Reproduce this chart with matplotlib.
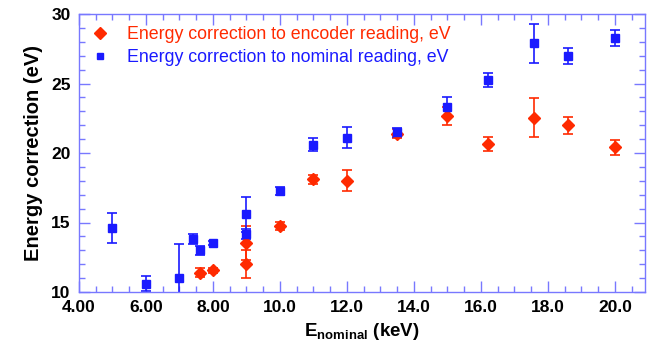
import matplotlib.pyplot as plt
from matplotlib.ticker import MultipleLocator, FixedFormatter, FixedLocator

plt.rcParams['font.family'] = ['Liberation Sans', 'DejaVu Sans']

# Energy correction to encoder reading (red diamonds)
enc_x = [7.6, 8.0, 9.0, 9.0, 10.0, 11.0, 12.0, 13.5, 15.0, 16.2, 17.6, 18.6, 20.0]
enc_y = [11.4, 11.56, 13.53, 12.0, 14.73, 18.1, 18.0, 21.4, 22.65, 20.65, 22.53, 22.0, 20.4]
enc_err = [0.3, 0.2, 1.25, 1.0, 0.3, 0.3, 0.75, 0.3, 0.65, 0.5, 1.4, 0.6, 0.55]

# Energy correction to nominal reading (blue squares)
nom_x = [5.0, 6.0, 7.0, 7.4, 7.6, 8.0, 9.0, 9.0, 10.0, 11.0, 12.0, 13.5, 15.0, 16.2, 17.6, 18.6, 20.0]
nom_y = [14.6, 10.6, 11.03, 13.79, 13.0, 13.52, 15.6, 14.15, 17.25, 20.61, 21.09, 21.48, 23.32, 25.25, 27.89, 27.0, 28.29]
nom_err = [1.1, 0.55, 2.4, 0.36, 0.33, 0.15, 1.25, 0.35, 0.3, 0.47, 0.75, 0.3, 0.7, 0.48, 1.42, 0.58, 0.56]

xticks = [4, 6, 8, 10, 12, 14, 16, 18, 20]
xticklabels = ['4.00', '6.00', '8.00', '10.0', '12.0', '14.0', '16.0', '18.0', '20.0']

fig = plt.figure(figsize=(6.47, 3.47), dpi=100)
ax = fig.add_axes([79 / 647, 1 - 292 / 347, (645 - 79) / 647, (292 - 14) / 347])

red = '#ff2a00'
blue = '#1a1aff'
eb1 = ax.errorbar(enc_x, enc_y, yerr=enc_err, fmt='D', color=red, ms=6.5, capsize=3.5,
                  elinewidth=1.2, capthick=1.2)
eb2 = ax.errorbar(nom_x, nom_y, yerr=nom_err, fmt='s', color=blue, ms=5.5, capsize=3.5,
                  elinewidth=1.2, capthick=1.2)

ax.set_xlim(4, 20.9)
ax.set_ylim(10, 30)

ax.xaxis.set_major_locator(FixedLocator(xticks))
ax.xaxis.set_major_formatter(FixedFormatter(xticklabels))
ax.xaxis.set_minor_locator(MultipleLocator(0.5))
ax.yaxis.set_major_locator(MultipleLocator(5))
ax.yaxis.set_minor_locator(MultipleLocator(1))

axis_col = '#7878ff'
for s in ax.spines.values():
    s.set_color(axis_col)
    s.set_linewidth(1.0)
ax.tick_params(which='both', direction='in', top=True, right=True, color=axis_col)
ax.tick_params(which='major', length=8, width=1.0, labelsize=12.5, pad=6)
ax.tick_params(which='minor', length=4, width=1.0)
for lab in ax.get_xticklabels() + ax.get_yticklabels():
    lab.set_fontweight('bold')

ax.set_ylabel('Energy correction (eV)', fontsize=14.5, fontweight='bold', labelpad=6)
ax.set_xlabel(r'E$_{\mathregular{nominal}}$ (keV)', fontsize=13.5, fontweight='bold', labelpad=4)

leg = ax.legend([eb1[0], eb2[0]],
                ['Energy correction to encoder reading, eV',
                 'Energy correction to nominal reading, eV'],
                loc='upper left', frameon=False, fontsize=12.8, handlelength=1.0,
                handletextpad=1.0, borderaxespad=0.3, labelspacing=0.3)
leg.get_lines()[0].set_markersize(6)
leg.get_lines()[1].set_markersize(5)
for txt, c in zip(leg.get_texts(), [red, blue]):
    txt.set_color(c)

fig.savefig('out.png', dpi=100)
